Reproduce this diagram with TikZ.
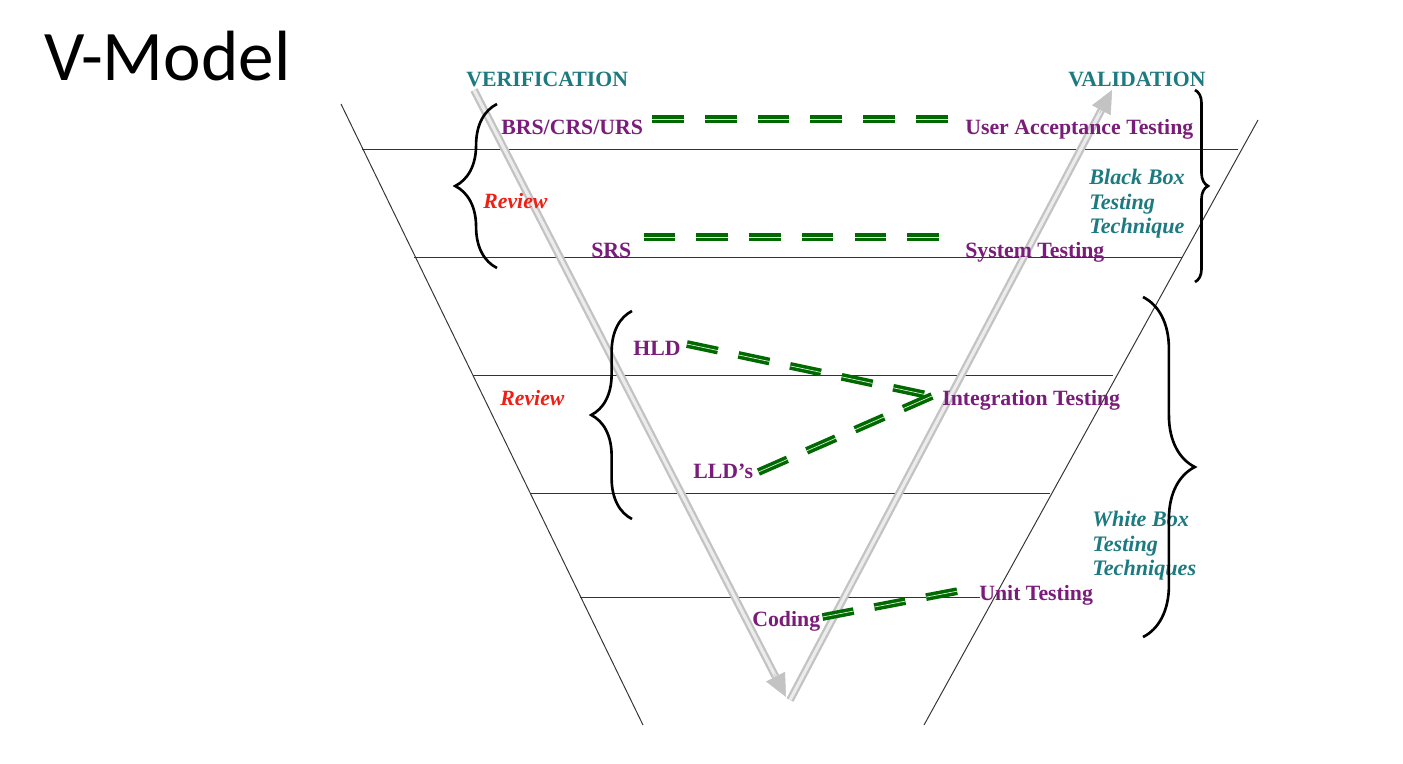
\documentclass[tikz,border=0pt]{standalone}
\usepackage{fontspec}
\setmainfont{Liberation Serif}
\newfontfamily\titlefont{Carlito}
\usetikzlibrary{calc,decorations.pathreplacing,arrows.meta}
\definecolor{vpurple}{RGB}{122,28,122}
\definecolor{vteal}{RGB}{28,122,128}
\definecolor{vred}{RGB}{240,30,20}
\definecolor{vgreen}{RGB}{0,105,0}
\definecolor{vpale}{RGB}{215,240,215}
\definecolor{vgray}{RGB}{195,195,195}
\definecolor{vgraylt}{RGB}{236,236,236}
\begin{document}
\begin{tikzpicture}[x=0.02cm,y=-0.02cm,
  guide/.style={draw=black!80, line width=0.55pt},
  lbl/.style={text=vpurple, font=\fontsize{12.4}{14}\selectfont\bfseries, inner sep=0pt, anchor=base west},
  phase/.style={text=vteal, font=\fontsize{12.4}{14}\selectfont\bfseries, inner sep=0pt, anchor=base west},
  rev/.style={text=vred, font=\fontsize{12.4}{14}\selectfont\bfseries\itshape, inner sep=0pt, anchor=base west},
  tech/.style={text=vteal, font=\fontsize{12.6}{13.9}\selectfont\bfseries\itshape, inner sep=0pt, align=left, anchor=west},
  link/.style={draw=vgreen, double=vpale, line width=2pt, double distance=0.4pt, dash pattern=on 18pt off 12pt},
  flow/.style={draw=vgray, double=vgraylt, line width=1.3pt, double distance=1.8pt},
  flowtip/.style={draw=vgray, fill=vgray, line width=0.3pt, -{Triangle[length=13pt,width=12pt]}},
  bracket/.style={draw=black, line width=1.5pt, decorate},
]
\useasboundingbox (0,0) rectangle (1403,764);
\fill[white] (0,0) rectangle (1403,764);

% outer V
\draw[guide] (341,104) -- (643,725);
\draw[guide] (1258,120) -- (924,725);
% level lines
\draw[guide] (362,149) -- (1238,149);
\draw[guide] (414,257) -- (1182,257);
\draw[guide] (473,375) -- (1113,375);
\draw[guide] (530,493) -- (1050,493);
\draw[guide] (580,597) -- (980,597);

% grey flow arrows
\coordinate (dtop) at (474,90);
\coordinate (dtip) at (786,697);
\coordinate (vbot) at (790,700);
\coordinate (utip) at (1112,90);
\draw[flow] (dtop) -- ($(dtip)!11pt!(dtop)$);
\draw[flowtip] ($(dtip)!15pt!(dtop)$) -- (dtip);
\draw[flow] (vbot) -- ($(utip)!11pt!(vbot)$);
\draw[flowtip] ($(utip)!15pt!(vbot)$) -- (utip);

% title
\node[font=\titlefont\fontsize{40.5}{48}\selectfont, anchor=base west, inner sep=0pt] (title) at (44,80) {V-Model};

% labels
\node[phase] (ver) at (466,86) {VERIFICATION};
\node[phase] (val) at (1068,86) {VALIDATION};
\node[lbl] (brs) at (501,134) {BRS/CRS/URS};
\node[lbl] (uat) at (965,134) {User Acceptance Testing};
\node[lbl] (srs) at (591,257) {SRS};
\node[lbl] (sys) at (965,257) {System Testing};
\node[lbl] (hld) at (633,355) {HLD};
\node[lbl] (int) at (942,405) {Integration Testing};
\node[lbl] (lld) at (693,478) {LLD’s};
\node[lbl] (unit) at (979,600) {Unit Testing};
\node[lbl] (cod) at (752,626) {Coding};
\node[rev] (rev1) at (483,208) {Review};
\node[rev] (rev2) at (500,405) {Review};
\node[tech] (bbt) at (1089,204) {Black Box\\Testing\\Technique};
\node[tech] (wbt) at (1092,546) {White Box\\Testing\\Techniques};

% green links
\draw[link] ([shift={(9,-15)}]brs.base east) -- ([shift={(-10,-15)}]uat.base west);
\draw[link] ([shift={(12,-20)}]srs.base east) -- ([shift={(-17,-20)}]sys.base west);
\draw[link] ([shift={(6,-11)}]hld.base east) -- ([shift={(-10,-9)}]int.base west);
\draw[link] ([shift={(5,-6)}]lld.base east) -- ([shift={(-10,-9)}]int.base west);
\draw[link] ([shift={(2,-9)}]cod.base east) -- ([shift={(-21,-9)}]unit.base west);

% braces
\draw[bracket, decoration={brace, amplitude=23.8pt}] (497,268) -- (497,104);
\draw[bracket, decoration={brace, amplitude=23.2pt}] (632,519) -- (632,311);
\draw[bracket, decoration={brace, amplitude=7.4pt}] (1195,90) -- (1195,282);
\draw[bracket, decoration={brace, amplitude=29.5pt}] (1143,297) -- (1143,637);
\end{tikzpicture}
\end{document}
